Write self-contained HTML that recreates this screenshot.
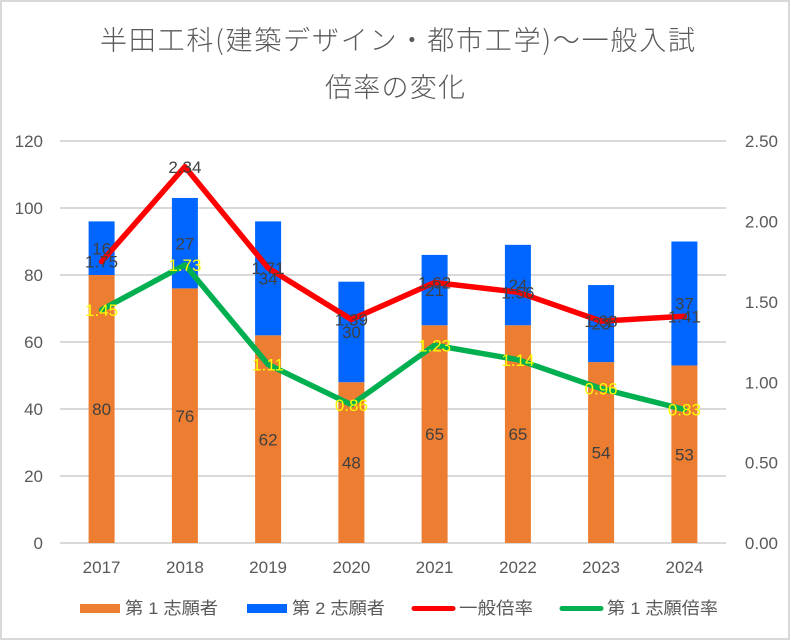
<!DOCTYPE html>
<html>
<head>
<meta charset="utf-8">
<style>
  html, body { margin:0; padding:0; background:#fff; }
  svg { display:block; }
  text { font-family: "Liberation Sans", "Noto Sans CJK JP", sans-serif; }
  .t { font-family: "Noto Sans CJK JP", "Liberation Sans", sans-serif; font-weight:300; fill:#595959; }
  .ax { font-size:17px; fill:#595959; }
  .dl { font-size:17px; fill:#404040; }
  .yl { font-size:17px; fill:#FFFF00; }
  .lg { font-family: "Liberation Sans", "Noto Sans CJK JP", sans-serif; font-size:17px; fill:#595959; }
</style>
</head>
<body>
<svg width="791" height="640" viewBox="0 0 791 640" xmlns="http://www.w3.org/2000/svg">
  <rect x="0" y="0" width="791" height="640" fill="#fff"/>
  <rect x="1" y="1" width="788" height="638" fill="none" stroke="#D9D9D9" stroke-width="2"/>

  <!-- Title -->
  <text class="t" x="100" y="50" font-size="27" textLength="595" lengthAdjust="spacing">半田工科(建築デザイン・都市工学)～一般入試</text>
  <text class="t" x="325" y="97" font-size="27" textLength="140" lengthAdjust="spacing">倍率の変化</text>

  <!-- gridlines -->
  <g stroke="#D9D9D9" stroke-width="2">
    <line x1="60" y1="141" x2="726" y2="141"/>
    <line x1="60" y1="208" x2="726" y2="208"/>
    <line x1="60" y1="275" x2="726" y2="275"/>
    <line x1="60" y1="342" x2="726" y2="342"/>
    <line x1="60" y1="409" x2="726" y2="409"/>
    <line x1="60" y1="476" x2="726" y2="476"/>
    <line x1="60" y1="543" x2="726" y2="543"/>
  </g>

  <!-- left axis labels -->
  <g class="ax" text-anchor="end">
    <text x="43" y="147.1">120</text>
    <text x="43" y="214.1">100</text>
    <text x="43" y="281.1">80</text>
    <text x="43" y="348.1">60</text>
    <text x="43" y="415.1">40</text>
    <text x="43" y="482.1">20</text>
    <text x="43" y="549.1">0</text>
  </g>
  <!-- right axis labels -->
  <g class="ax" text-anchor="end">
    <text x="778" y="147.1">2.50</text>
    <text x="778" y="227.5">2.00</text>
    <text x="778" y="307.9">1.50</text>
    <text x="778" y="388.3">1.00</text>
    <text x="778" y="468.7">0.50</text>
    <text x="778" y="549.1">0.00</text>
  </g>

  <!-- orange bars -->
  <g fill="#ED7D31">
    <rect x="88.6" y="275" width="26" height="268"/>
    <rect x="171.9" y="288.4" width="26" height="254.6"/>
    <rect x="255.1" y="335.3" width="26" height="207.7"/>
    <rect x="338.4" y="382.2" width="26" height="160.8"/>
    <rect x="421.6" y="325.25" width="26" height="217.75"/>
    <rect x="504.9" y="325.25" width="26" height="217.75"/>
    <rect x="588.1" y="362.1" width="26" height="180.9"/>
    <rect x="671.4" y="365.45" width="26" height="177.55"/>
  </g>
  <!-- blue bars -->
  <g fill="#0066FF">
    <rect x="88.6" y="221.4" width="26" height="53.6"/>
    <rect x="171.9" y="197.95" width="26" height="90.45"/>
    <rect x="255.1" y="221.4" width="26" height="113.9"/>
    <rect x="338.4" y="281.7" width="26" height="100.5"/>
    <rect x="421.6" y="254.9" width="26" height="70.35"/>
    <rect x="504.9" y="244.85" width="26" height="80.4"/>
    <rect x="588.1" y="285.05" width="26" height="77.05"/>
    <rect x="671.4" y="241.5" width="26" height="123.95"/>
  </g>

  <!-- lines -->
  <polyline fill="none" stroke="#FF0000" stroke-width="5.5" stroke-linejoin="round" stroke-linecap="round"
    points="101.6,261.6 184.9,166.7 268.1,268.0 351.4,319.5 434.6,282.5 517.9,292.2 601.1,321.1 684.4,316.3"/>
  <polyline fill="none" stroke="#00B050" stroke-width="5.5" stroke-linejoin="round" stroke-linecap="round"
    points="101.6,309.8 184.9,264.8 268.1,364.5 351.4,404.7 434.6,345.2 517.9,359.7 601.1,388.6 684.4,409.5"/>

  <!-- orange labels -->
  <g class="dl" text-anchor="middle">
    <text x="101.6" y="415.1">80</text>
    <text x="184.9" y="421.8">76</text>
    <text x="268.1" y="445.3">62</text>
    <text x="351.4" y="468.7">48</text>
    <text x="434.6" y="440.2">65</text>
    <text x="517.9" y="440.2">65</text>
    <text x="601.1" y="458.7">54</text>
    <text x="684.4" y="460.3">53</text>
  </g>
  <!-- blue labels -->
  <g class="dl" text-anchor="middle">
    <text x="101.6" y="254.3">16</text>
    <text x="184.9" y="249.3">27</text>
    <text x="268.1" y="284.5">34</text>
    <text x="351.4" y="338.1">30</text>
    <text x="434.6" y="296.2">21</text>
    <text x="517.9" y="291.2">24</text>
    <text x="601.1" y="329.7">23</text>
    <text x="684.4" y="309.6">37</text>
  </g>
  <!-- red line labels -->
  <g class="dl" text-anchor="middle">
    <text x="101.6" y="267.7">1.75</text>
    <text x="184.9" y="172.8">2.34</text>
    <text x="268.1" y="274.1">1.71</text>
    <text x="351.4" y="325.6">1.39</text>
    <text x="434.6" y="288.6">1.62</text>
    <text x="517.9" y="298.3">1.56</text>
    <text x="601.1" y="327.2">1.38</text>
    <text x="684.4" y="322.4">1.41</text>
  </g>
  <!-- green line labels (yellow) -->
  <g class="yl" text-anchor="middle">
    <text x="101.6" y="315.9">1.45</text>
    <text x="184.9" y="270.9">1.73</text>
    <text x="268.1" y="370.6">1.11</text>
    <text x="351.4" y="410.8">0.86</text>
    <text x="434.6" y="351.3">1.23</text>
    <text x="517.9" y="365.8">1.14</text>
    <text x="601.1" y="394.7">0.96</text>
    <text x="684.4" y="415.6">0.83</text>
  </g>

  <!-- x labels -->
  <g class="ax" text-anchor="middle">
    <text x="101.6" y="573.1">2017</text>
    <text x="184.9" y="573.1">2018</text>
    <text x="268.1" y="573.1">2019</text>
    <text x="351.4" y="573.1">2020</text>
    <text x="434.6" y="573.1">2021</text>
    <text x="517.9" y="573.1">2022</text>
    <text x="601.1" y="573.1">2023</text>
    <text x="684.4" y="573.1">2024</text>
  </g>

  <!-- legend -->
  <rect x="80" y="604" width="40" height="9" fill="#ED7D31"/>
  <text class="lg" x="125" y="614" textLength="93" lengthAdjust="spacingAndGlyphs">第 1 志願者</text>
  <rect x="247" y="604" width="40" height="9" fill="#0066FF"/>
  <text class="lg" x="292" y="614" textLength="93" lengthAdjust="spacingAndGlyphs">第 2 志願者</text>
  <line x1="414" y1="608.5" x2="453" y2="608.5" stroke="#FF0000" stroke-width="5" stroke-linecap="round"/>
  <text class="lg" x="459" y="614" textLength="74" lengthAdjust="spacingAndGlyphs">一般倍率</text>
  <line x1="562" y1="608.5" x2="601" y2="608.5" stroke="#00B050" stroke-width="5" stroke-linecap="round"/>
  <text class="lg" x="607" y="614" textLength="111" lengthAdjust="spacingAndGlyphs">第 1 志願倍率</text>
</svg>
</body>
</html>
